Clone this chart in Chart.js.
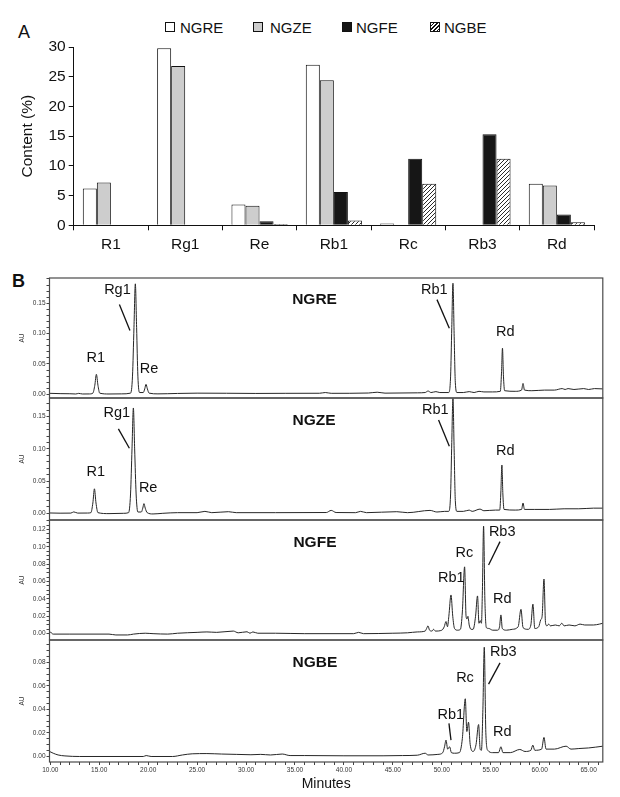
<!DOCTYPE html>
<html lang="en">
<head>
<meta charset="UTF-8">
<title>Ginsenoside content and HPLC chromatograms</title>
<script src="https://cdn.jsdelivr.net/npm/chart.js"></script>
<style>
  body { margin: 0; background: #fff; font-family: "Liberation Sans", Arial, sans-serif; color: #111; }
  #fig { position: relative; width: 620px; height: 797px; overflow: hidden; background: #fff; }
  canvas { position: absolute; left: 0; }
  .letter { position: absolute; font-size: 18px; line-height: 1; }
  .key { position: absolute; font-size: 15px; line-height: 1; top: 20px; }
  .swatch { position: absolute; top: 22px; width: 8px; height: 8px; border: 1px solid #111; }
</style>
</head>
<body>
<div id="fig">
  <div class="letter" style="left:18px; top:23px;">A</div>
  <div class="letter" style="left:12px; top:272px; font-weight:bold;">B</div>

  <div class="swatch" style="left:165px; background:#fff;"></div>
  <div class="key" style="left:180px;">NGRE</div>
  <div class="swatch" style="left:253px; background:#cdcdcd;"></div>
  <div class="key" style="left:270px;">NGZE</div>
  <div class="swatch" style="left:342px; background:#161616;"></div>
  <div class="key" style="left:356px;">NGFE</div>
  <div class="swatch" style="left:430px; background:repeating-linear-gradient(135deg, #fff 0 1.6px, #111 1.6px 2.6px);"></div>
  <div class="key" style="left:444px;">NGBE</div>

  <canvas id="barChart" width="620" height="262" style="top:0;"></canvas>
  <canvas id="hplc1" width="620" height="140" style="top:268px;"></canvas>
  <canvas id="hplc2" width="620" height="142" style="top:388px;"></canvas>
  <canvas id="hplc3" width="620" height="140" style="top:510px;"></canvas>
  <canvas id="hplc4" width="620" height="167" style="top:630px;"></canvas>
</div>
<script>
// ---- panel A: ginsenoside content (%) ----
const categories = ['R1', 'Rg1', 'Re', 'Rb1', 'Rc', 'Rb3', 'Rd'];
const ngreContent = [6.2, 29.8, 3.5, 27.0, 0.3, 0, 7.0];
const ngzeContent = [7.2, 26.8, 3.3, 24.4, 0, 0, 6.7];
const ngfeContent = [0, 0, 0.7, 5.6, 11.2, 15.3, 1.8];
const ngbeContent = [0, 0, 0.2, 0.8, 7.0, 11.2, 0.5];

// ---- panel B: chromatograms, [minutes, AU] ----
const ngreTrace = [
  [9.92, 0.0017], [11.0, 0.0012], [12.0, 0.001], [12.6, 0.0006], [12.9, 0.0016], [13.3, 0.0006], [14.0, 0.0007],
  [14.35, 0.002], [14.55, 0.015], [14.71, 0.033], [14.87, 0.015], [15.05, 0.002], [16.0, 0.0006], [17.3, 0.0008],
  [18.2, 0.002], [18.4, 0.03], [18.55, 0.11], [18.69, 0.182], [18.82, 0.11], [18.95, 0.03], [19.12, 0.003],
  [19.5, 0.003], [19.65, 0.009], [19.78, 0.0165], [19.92, 0.009], [20.1, 0.002], [21.0, 0.0008], [23.0, 0.0015],
  [25.0, 0.002], [28.0, 0.0018], [31.0, 0.0015], [34.0, 0.0017], [37.5, 0.0018], [38.1, 0.003], [38.7, 0.0017],
  [42.5, 0.0022], [43.4, 0.0035], [44.2, 0.002], [47.5, 0.0025], [48.3, 0.003], [48.6, 0.0055], [48.9, 0.003],
  [49.4, 0.0045], [49.8, 0.003], [50.7, 0.003], [50.9, 0.03], [51.02, 0.11], [51.14, 0.183], [51.26, 0.1],
  [51.38, 0.02], [51.55, 0.003], [52.2, 0.003], [52.8, 0.0045], [53.3, 0.003], [53.8, 0.005], [54.3, 0.004],
  [55.2, 0.004], [55.98, 0.005], [56.1, 0.035], [56.2, 0.076], [56.3, 0.03], [56.42, 0.006], [57.5, 0.005],
  [58.15, 0.007], [58.3, 0.018], [58.45, 0.007], [59.2, 0.006], [60.5, 0.007], [61.5, 0.007], [62.3, 0.0095],
  [62.6, 0.008], [62.9, 0.0095], [63.5, 0.008], [64.5, 0.0095], [65.0, 0.008], [65.6, 0.0095], [66.45, 0.009]
];
const ngzeTrace = [
  [9.92, 0.0005], [11.0, 0.0002], [12.1, 0.0003], [12.4, 0.0022], [12.8, 0.0003], [13.8, 0.0004],
  [14.15, 0.001], [14.35, 0.016], [14.51, 0.038], [14.67, 0.016], [14.87, 0.001], [16.0, -0.0005], [17.5, 0.0],
  [18.0, 0.001], [18.2, 0.03], [18.35, 0.1], [18.49, 0.1635], [18.62, 0.1], [18.77, 0.03], [18.95, 0.002],
  [19.3, 0.002], [19.45, 0.008], [19.57, 0.015], [19.7, 0.008], [19.9, 0.001], [20.5, -0.001], [21.5, 0.0],
  [23.0, 0.001], [25.0, 0.001], [25.8, 0.003], [26.5, 0.001], [28.2, 0.0025], [29.0, 0.001], [33.0, 0.001],
  [38.2, 0.0012], [38.7, 0.0045], [39.2, 0.0012], [41.2, 0.001], [41.7, 0.003], [42.3, 0.001], [45.4, 0.0025],
  [46.5, 0.001], [48.8, 0.0045], [49.5, 0.002], [50.3, 0.003], [50.7, 0.003], [50.9, 0.03], [51.02, 0.11],
  [51.14, 0.178], [51.26, 0.1], [51.38, 0.02], [51.55, 0.003], [52.2, 0.003], [52.8, 0.005], [53.1, 0.003],
  [53.9, 0.0065], [54.3, 0.004], [55.5, 0.005], [55.92, 0.005], [56.04, 0.035], [56.14, 0.075], [56.24, 0.03],
  [56.36, 0.006], [57.5, 0.005], [58.15, 0.006], [58.3, 0.016], [58.45, 0.006], [59.5, 0.006], [61.0, 0.006],
  [62.5, 0.007], [64.0, 0.007], [65.5, 0.008], [66.45, 0.008]
];
const ngfeTrace = [
  [9.92, 0.003], [10.3, -0.0005], [12.0, -0.0005], [16.0, -0.0005], [16.7, -0.0015], [17.9, -0.0015], [18.5, -0.0005],
  [19.7, 0.0005], [20.5, 0.0], [22.0, -0.0005], [23.0, 0.0005], [25.0, 0.0015], [26.0, 0.002], [27.0, 0.0015],
  [28.7, 0.003], [29.2, 0.001], [30.1, 0.0022], [30.4, 0.0005], [30.7, 0.002], [31.2, 0.0005], [33.0, 0.0005],
  [36.0, 0.0], [41.0, 0.0], [41.5, 0.0015], [42.0, 0.0], [45.0, 0.0005], [46.5, 0.001], [47.5, 0.002],
  [48.3, 0.003], [48.45, 0.006], [48.59, 0.009], [48.75, 0.004], [49.0, 0.003], [49.16, 0.005], [49.35, 0.003],
  [50.0, 0.004], [50.25, 0.008], [50.43, 0.014], [50.58, 0.008], [50.72, 0.02], [50.94, 0.0446], [51.12, 0.02],
  [51.3, 0.006], [51.6, 0.004], [51.9, 0.005], [52.1, 0.025], [52.33, 0.077], [52.48, 0.02], [52.58, 0.017],
  [52.67, 0.02], [52.8, 0.01], [53.0, 0.005], [53.2, 0.005], [53.45, 0.02], [53.65, 0.0435], [53.8, 0.012],
  [53.93, 0.015], [54.05, 0.012], [54.15, 0.05], [54.27, 0.124], [54.4, 0.04], [54.55, 0.007], [54.8, 0.006],
  [55.2, 0.004], [55.7, 0.004], [55.9, 0.008], [56.04, 0.0216], [56.18, 0.006], [56.6, 0.004], [57.2, 0.005],
  [57.8, 0.008], [58.09, 0.028], [58.3, 0.007], [58.8, 0.005], [59.1, 0.01], [59.31, 0.034], [59.5, 0.006],
  [59.9, 0.008], [60.11, 0.016], [60.25, 0.02], [60.44, 0.063], [60.6, 0.012], [60.75, 0.009], [60.92, 0.011],
  [61.1, 0.009], [61.6, 0.01], [62.0, 0.009], [62.26, 0.012], [62.5, 0.009], [63.0, 0.01], [63.6, 0.009],
  [64.13, 0.011], [64.6, 0.01], [65.5, 0.01], [66.1, 0.011], [66.45, 0.012]
];
const ngbeTrace = [
  [9.92, 0.004], [10.3, 0.0025], [10.8, 0.001], [11.5, 0.0002], [13.0, -0.0003], [16.0, -0.0003], [19.5, -0.0003],
  [19.8, 0.0005], [20.3, -0.0003], [22.5, -0.0003], [23.5, 0.001], [24.5, 0.002], [26.0, 0.0022], [27.5, 0.0018],
  [29.0, 0.0015], [30.5, 0.0012], [31.5, 0.0015], [32.5, 0.001], [33.7, 0.0018], [34.5, 0.0005], [36.0, 0.0005],
  [40.0, 0.0003], [44.0, 0.0003], [46.0, 0.0005], [47.5, 0.0008], [48.3, 0.0025], [48.6, 0.001], [49.6, 0.0015],
  [50.1, 0.003], [50.28, 0.008], [50.43, 0.0137], [50.6, 0.006], [50.8, 0.008], [50.98, 0.003], [51.3, 0.0025],
  [51.8, 0.003], [52.1, 0.015], [52.4, 0.049], [52.56, 0.021], [52.73, 0.029], [52.9, 0.01], [53.2, 0.004],
  [53.5, 0.01], [53.76, 0.027], [53.92, 0.006], [54.05, 0.005], [54.2, 0.04], [54.34, 0.093], [54.5, 0.02],
  [54.7, 0.005], [55.2, 0.003], [55.8, 0.003], [56.04, 0.008], [56.25, 0.003], [57.0, 0.003], [57.97, 0.0057],
  [58.5, 0.004], [59.1, 0.005], [59.3, 0.0094], [59.5, 0.005], [60.2, 0.006], [60.44, 0.016], [60.65, 0.006],
  [61.5, 0.006], [62.7, 0.0085], [63.2, 0.006], [64.0, 0.0065], [65.0, 0.007], [66.45, 0.0085]
];

const FONT = '"Liberation Sans", Arial, sans-serif';
Chart.defaults.font.family = FONT;
Chart.defaults.color = '#111';
Chart.defaults.animation = false;

// diagonal hatch for NGBE
function hatch() {
  const c = document.createElement('canvas');
  c.width = 4; c.height = 4;
  const g = c.getContext('2d');
  g.fillStyle = '#fff';
  g.fillRect(0, 0, 4, 4);
  g.strokeStyle = '#111';
  g.lineWidth = 0.9;
  g.beginPath();
  g.moveTo(0, 4); g.lineTo(4, 0);
  g.moveTo(-1, 1); g.lineTo(1, -1);
  g.moveTo(3, 5); g.lineTo(5, 3);
  g.stroke();
  return g.createPattern(c, 'repeat');
}

function barSet(label, data, fill) {
  return { label, data, backgroundColor: fill, borderColor: '#111', borderWidth: 1 };
}

new Chart(document.getElementById('barChart'), {
  type: 'bar',
  data: {
    labels: categories,
    datasets: [
      barSet('NGRE', ngreContent, '#ffffff'),
      barSet('NGZE', ngzeContent, '#cdcdcd'),
      barSet('NGFE', ngfeContent, '#161616'),
      barSet('NGBE', ngbeContent, hatch())
    ]
  },
  options: {
    responsive: false,
    events: [],
    layout: { padding: { top: 47, right: 26, left: 0, bottom: 0 } },
    datasets: { bar: { categoryPercentage: 0.755, barPercentage: 1.0 } },
    plugins: { legend: { display: false }, tooltip: { enabled: false } },
    scales: {
      x: {
        afterFit: s => { s.height = 36.7; },
        border: { color: '#111', width: 1 },
        grid: { drawOnChartArea: false, tickLength: 5, tickColor: '#111' },
        ticks: { font: { size: 15.5 }, color: '#111', padding: 5 }
      },
      y: {
        min: 0,
        max: 30,
        afterFit: s => { s.width = 73.7; },
        border: { color: '#111', width: 1 },
        grid: { drawOnChartArea: false, tickLength: 5, tickColor: '#111' },
        ticks: { stepSize: 5, font: { size: 15.5 }, color: '#111', padding: 3 },
        title: { display: true, text: 'Content (%)', font: { size: 15.5 }, color: '#111', padding: { top: 18 } }
      }
    }
  }
});

// ---- chromatogram panels ----
const X_MIN = 9.92, X_MAX = 66.45;

function tickRange(lo, hi, step) {
  const out = [];
  const n = Math.round((hi - lo) / step);
  for (let i = 0; i <= n; i++) out.push({ value: +(lo + i * step).toFixed(4) });
  return out;
}

const panelNotes = [
  { name: 'NGRE', title: [37.0, 0.156],
    labels: [['R1', 14.64, 0.060], ['Rg1', 16.86, 0.172], ['Re', 20.08, 0.042], ['Rb1', 49.23, 0.172], ['Rd', 56.48, 0.102]],
    leaders: [[17.06, 0.148, 18.14, 0.105], [49.51, 0.156, 50.77, 0.109]] },
  { name: 'NGZE', title: [36.94, 0.143],
    labels: [['R1', 14.64, 0.064], ['Rg1', 16.79, 0.156], ['Re', 20.0, 0.040], ['Rb1', 49.33, 0.161], ['Rd', 56.48, 0.096]],
    leaders: [[16.96, 0.131, 18.08, 0.101], [49.67, 0.145, 50.77, 0.104]] },
  { name: 'NGFE', title: [37.04, 0.105],
    labels: [['Rb3', 56.17, 0.1176], ['Rc', 52.3, 0.0934], ['Rb1', 50.97, 0.0639], ['Rd', 56.17, 0.0397]],
    leaders: [[55.95, 0.1061, 54.78, 0.0792]] },
  { name: 'NGBE', title: [37.04, 0.0797],
    labels: [['Rb3', 56.28, 0.0891], ['Rc', 52.37, 0.0664], ['Rb1', 50.92, 0.035], ['Rd', 56.17, 0.0203]],
    leaders: [[55.95, 0.0797, 54.78, 0.0615], [50.73, 0.028, 50.94, 0.0137]] }
];

function notesPlugin(notes) {
  return {
    id: 'notes',
    afterDatasetsDraw(chart) {
      const { ctx, scales: { x, y } } = chart;
      ctx.save();
      ctx.fillStyle = '#111';
      ctx.textAlign = 'center';
      ctx.textBaseline = 'middle';
      ctx.font = 'bold 15.5px ' + FONT;
      ctx.fillText(notes.name, x.getPixelForValue(notes.title[0]), y.getPixelForValue(notes.title[1]));
      ctx.font = '14.5px ' + FONT;
      notes.labels.forEach(([txt, t, v]) => ctx.fillText(txt, x.getPixelForValue(t), y.getPixelForValue(v)));
      ctx.strokeStyle = '#111';
      ctx.lineWidth = 1.3;
      notes.leaders.forEach(([t1, v1, t2, v2]) => {
        ctx.beginPath();
        ctx.moveTo(x.getPixelForValue(t1), y.getPixelForValue(v1));
        ctx.lineTo(x.getPixelForValue(t2), y.getPixelForValue(v2));
        ctx.stroke();
      });
      ctx.restore();
    },
    afterDraw(chart) {
      const a = chart.chartArea;
      const ctx = chart.ctx;
      ctx.save();
      ctx.strokeStyle = '#4a4a4a';
      ctx.lineWidth = 1.2;
      ctx.strokeRect(a.left, a.top, a.right - a.left, a.bottom - a.top);
      ctx.restore();
    }
  };
}

function hplcPanel(id, trace, notes, yMin, yMax, minor, major, showX) {
  const pad = showX ? { top: 10, bottom: 0, left: 0, right: 17.2 } : { top: 10, bottom: 10, left: 0, right: 17.2 };
  new Chart(document.getElementById(id), {
    type: 'line',
    data: {
      datasets: [{
        data: trace.map(([t, a]) => ({ x: t, y: a })),
        borderColor: '#262626',
        borderWidth: 1,
        pointRadius: 0,
        cubicInterpolationMode: 'monotone',
        fill: false
      }]
    },
    options: {
      responsive: false,
      events: [],
      layout: { padding: pad },
      plugins: { legend: { display: false }, tooltip: { enabled: false } },
      scales: {
        x: {
          type: 'linear',
          min: X_MIN,
          max: X_MAX,
          display: showX,
          afterBuildTicks: s => { s.ticks = tickRange(10, 66, 1); },
          afterFit: s => { s.height = showX ? 35 : 0; },
          border: { display: false },
          grid: { drawOnChartArea: false, tickLength: 3, tickColor: '#444' },
          ticks: {
            autoSkip: false, maxRotation: 0, minRotation: 0, padding: 1,
            font: { size: 6.5 }, color: '#333',
            callback: v => (Math.round(v) % 5 === 0 ? v.toFixed(2) : '')
          },
          title: { display: true, text: 'Minutes', font: { size: 14 }, color: '#111', padding: { top: 0, bottom: 4.6 } }
        },
        y: {
          min: yMin,
          max: yMax,
          afterBuildTicks: s => { s.ticks = tickRange(0, Math.floor(yMax / minor) * minor, minor); },
          afterFit: s => { s.width = 49.5; },
          border: { display: false },
          grid: { drawOnChartArea: false, tickLength: 3, tickColor: '#444' },
          ticks: {
            autoSkip: false, padding: 1, font: { size: 6.5 }, color: '#333',
            callback: v => (Math.round(v * 1000) % Math.round(major * 1000) === 0 ? v.toFixed(2) : '')
          },
          title: { display: true, text: 'AU', font: { size: 6.5 }, color: '#333', padding: { top: 18.5 } }
        }
      }
    },
    plugins: [notesPlugin(notes)]
  });
}

hplcPanel('hplc1', ngreTrace, panelNotes[0], -0.006, 0.1916, 0.01, 0.05, false);
hplcPanel('hplc2', ngzeTrace, panelNotes[1], -0.0104, 0.179, 0.01, 0.05, false);
hplcPanel('hplc3', ngfeTrace, panelNotes[2], -0.0073, 0.131, 0.005, 0.02, false);
hplcPanel('hplc4', ngbeTrace, panelNotes[3], -0.005, 0.0992, 0.005, 0.02, true);
</script>
</body>
</html>
